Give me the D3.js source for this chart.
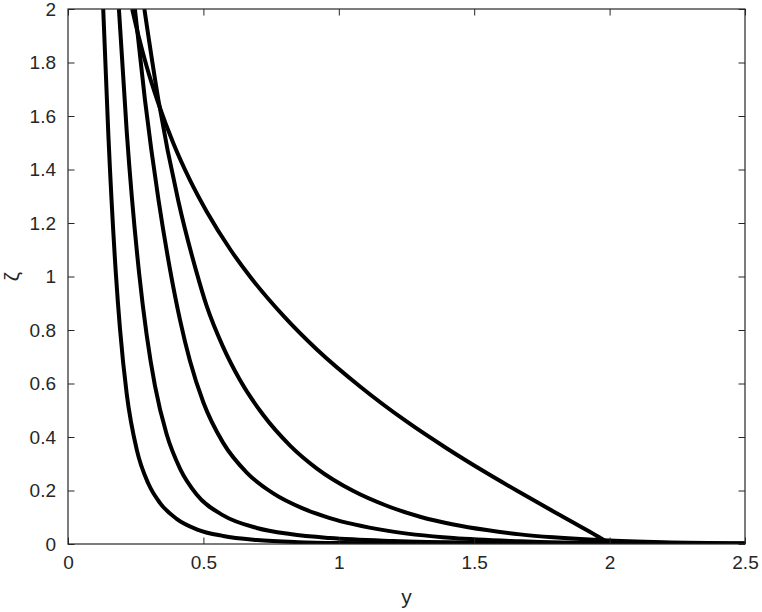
<!DOCTYPE html>
<html><head><meta charset="utf-8">
<script src="https://cdn.jsdelivr.net/npm/d3@7"></script>
<style>body{margin:0;background:#fff}svg{display:block}</style>
</head><body>
<svg id="c" width="762" height="612"></svg>
<script>
// data: y values and zeta values of each curve
const yA = [0.130,0.149,0.177,0.192,0.217,0.254,0.297,0.340,0.401,0.475,0.573,0.697,0.850,1.000,1.500,2.000,2.500];
const zA = [2.000,1.530,1.007,0.804,0.560,0.352,0.225,0.153,0.094,0.055,0.030,0.015,0.007,0.004,0.001,0.0005,0.0002];
const yB = [0.188,0.217,0.263,0.290,0.321,0.364,0.414,0.475,0.573,0.697,0.820,0.967,1.200,1.500,2.000,2.500];
const zB = [2.000,1.540,1.009,0.785,0.592,0.411,0.281,0.185,0.107,0.060,0.037,0.022,0.011,0.005,0.002,0.001];
const yC = [0.247,0.284,0.334,0.377,0.414,0.450,0.500,0.573,0.660,0.758,0.869,0.967,1.177,1.423,1.669,2.000,2.500];
const zC = [2.000,1.662,1.288,1.025,0.836,0.686,0.529,0.378,0.267,0.189,0.132,0.097,0.050,0.022,0.010,0.003,0.001];
const yD = [0.282,0.334,0.407,0.473,0.512,0.573,0.635,0.721,0.820,0.918,1.054,1.177,1.300,1.423,1.546,1.669,1.792,1.977,2.200,2.500];
const zD = [2.000,1.659,1.284,1.022,0.890,0.736,0.613,0.482,0.368,0.283,0.198,0.143,0.102,0.073,0.052,0.036,0.025,0.014,0.007,0.003];
const yE = [0.237,0.260,0.290,0.334,0.389,0.450,0.512,0.600,0.672,0.800,0.918,1.083,1.250,1.398,1.540,1.660,1.780,1.900,1.960,2.000,2.500];
const zE = [2.000,1.901,1.787,1.646,1.498,1.361,1.243,1.100,1.000,0.848,0.728,0.585,0.458,0.358,0.269,0.198,0.129,0.061,0.026,0.000,0.000];
const xTicks = [0,0.5,1,1.5,2,2.5];
const xTickLabels = ["0","0.5","1","1.5","2","2.5"];
const yTicks = [0,0.2,0.4,0.6,0.8,1,1.2,1.4,1.6,1.8,2];
const yTickLabels = ["0","0.2","0.4","0.6","0.8","1","1.2","1.4","1.6","1.8","2"];
const xLabel = "y";
const yLabel = "ζ";

const L=68, R=745, T=9, B=544;
const svg = d3.select("#c");
const x = d3.scaleLinear().domain([0,2.5]).range([L,R]);
const y = d3.scaleLinear().domain([0,2]).range([B,T]);
const axCol = "#262626";
const font = "'Liberation Sans', Arial, Helvetica, sans-serif";

svg.append("defs").append("clipPath").attr("id","clip")
  .append("rect").attr("x",L).attr("y",T).attr("width",R-L).attr("height",B-T);

const series = [[yA,zA],[yB,zB],[yC,zC],[yD,zD],[yE,zE]];
const line = d3.line().x(d=>x(d[0])).y(d=>y(d[1])).curve(d3.curveMonotoneX);
const g = svg.append("g").attr("clip-path","url(#clip)");
series.forEach(([ys,zs])=>{
  const pts = ys.map((v,i)=>[v,zs[i]]);
  // split where the curve reaches exactly zero (corner of compact support)
  const k = zs.findIndex((v,i)=>v===0 && i<zs.length-1);
  const parts = k>0 ? [pts.slice(0,k+1), pts.slice(k)] : [pts];
  parts.forEach(p=>{
    g.append("path").datum(p)
     .attr("d",line).attr("fill","none").attr("stroke","#000")
     .attr("stroke-width",4).attr("stroke-linejoin","round");
  });
});

const tl = 6.5;
function styleAxis(sel){
  sel.selectAll("path.domain").remove();
  sel.selectAll("line").attr("stroke",axCol);
  sel.selectAll("text").attr("fill",axCol).style("font-family",font).style("font-size","19px");
}
svg.append("g").attr("transform",`translate(0,${B})`)
  .call(d3.axisBottom(x).tickValues(xTicks).tickFormat((d,i)=>xTickLabels[i]).tickSize(-tl).tickPadding(12))
  .call(styleAxis);
svg.append("g").attr("transform",`translate(0,${T})`)
  .call(d3.axisTop(x).tickValues(xTicks).tickFormat("").tickSize(-tl))
  .call(styleAxis);
svg.append("g").attr("transform",`translate(${L},0)`)
  .call(d3.axisLeft(y).tickValues(yTicks).tickFormat((d,i)=>yTickLabels[i]).tickSize(-tl).tickPadding(12))
  .call(styleAxis);
svg.append("g").attr("transform",`translate(${R},0)`)
  .call(d3.axisRight(y).tickValues(yTicks).tickFormat("").tickSize(-tl))
  .call(styleAxis);

svg.append("rect").attr("x",L).attr("y",T).attr("width",R-L).attr("height",B-T)
  .attr("fill","none").attr("stroke",axCol).attr("stroke-width",1.2);

svg.append("text").attr("x",(L+R)/2).attr("y",604).attr("text-anchor","middle")
  .attr("fill",axCol).style("font-family",font).style("font-size","21px").text(xLabel);
svg.append("text").attr("transform",`translate(19,${(T+B)/2}) rotate(-90)`).attr("text-anchor","middle")
  .attr("fill",axCol).style("font-family",font).style("font-size","21px").text(yLabel);
</script>
</body></html>
